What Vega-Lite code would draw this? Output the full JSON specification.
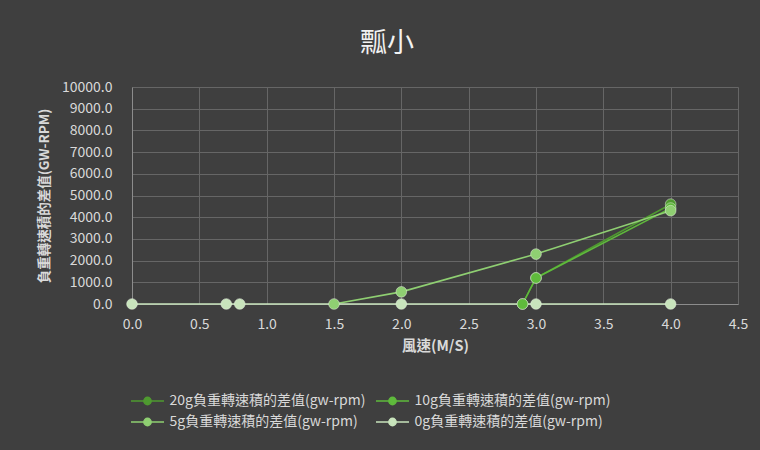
{
  "$schema": "https://vega.github.io/schema/vega-lite/v6.json",
  "width": 606,
  "height": 217,
  "autosize": {"type": "none"},
  "padding": {"left": 132, "top": 87, "right": 22, "bottom": 146},
  "background": "#3f3f3f",
  "title": {
    "text": "瓢小",
    "font": "Noto Sans CJK TC",
    "fontSize": 27,
    "fontWeight": "normal",
    "color": "#f2f2f2",
    "anchor": "middle",
    "dx": -48,
    "offset": 22
  },
  "data": {
    "values": [
      {"series": "20g負重轉速積的差值(gw-rpm)", "speed": 2.9, "diff": 0},
      {"series": "20g負重轉速積的差值(gw-rpm)", "speed": 3.0, "diff": 1200},
      {"series": "20g負重轉速積的差值(gw-rpm)", "speed": 4.0, "diff": 4600},
      {"series": "10g負重轉速積的差值(gw-rpm)", "speed": 2.9, "diff": 0},
      {"series": "10g負重轉速積的差值(gw-rpm)", "speed": 3.0, "diff": 1200},
      {"series": "10g負重轉速積的差值(gw-rpm)", "speed": 4.0, "diff": 4420},
      {"series": "5g負重轉速積的差值(gw-rpm)", "speed": 1.5, "diff": 0},
      {"series": "5g負重轉速積的差值(gw-rpm)", "speed": 2.0, "diff": 560},
      {"series": "5g負重轉速積的差值(gw-rpm)", "speed": 3.0, "diff": 2300},
      {"series": "5g負重轉速積的差值(gw-rpm)", "speed": 4.0, "diff": 4300},
      {"series": "0g負重轉速積的差值(gw-rpm)", "speed": 0.0, "diff": 0},
      {"series": "0g負重轉速積的差值(gw-rpm)", "speed": 0.7, "diff": 0},
      {"series": "0g負重轉速積的差值(gw-rpm)", "speed": 0.8, "diff": 0},
      {"series": "0g負重轉速積的差值(gw-rpm)", "speed": 2.0, "diff": 0},
      {"series": "0g負重轉速積的差值(gw-rpm)", "speed": 3.0, "diff": 0},
      {"series": "0g負重轉速積的差值(gw-rpm)", "speed": 4.0, "diff": 0}
    ]
  },
  "encoding": {
    "x": {
      "field": "speed",
      "type": "quantitative",
      "scale": {"domain": [0, 4.5], "nice": false, "zero": false},
      "axis": {
        "title": "風速(M/S)",
        "values": [0, 0.5, 1, 1.5, 2, 2.5, 3, 3.5, 4, 4.5],
        "format": ".1f",
        "labelFlush": false,
        "labelPadding": 13,
        "titlePadding": 8,
        "titleFontSize": 14.5
      }
    },
    "y": {
      "field": "diff",
      "type": "quantitative",
      "scale": {"domain": [0, 10000], "nice": false},
      "axis": {
        "title": "負重轉速積的差值(GW-RPM)",
        "values": [0, 1000, 2000, 3000, 4000, 5000, 6000, 7000, 8000, 9000, 10000],
        "format": ".1f",
        "labelPadding": 20,
        "titlePadding": 10,
        "titleFontSize": 13.5
      }
    },
    "color": {
      "field": "series",
      "type": "nominal",
      "sort": null,
      "scale": {
        "domain": [
          "20g負重轉速積的差值(gw-rpm)",
          "10g負重轉速積的差值(gw-rpm)",
          "5g負重轉速積的差值(gw-rpm)",
          "0g負重轉速積的差值(gw-rpm)"
        ],
        "range": ["#4f9a30", "#5fba3c", "#8fcf72", "#c8e4bc"]
      },
      "legend": {
        "title": null,
        "orient": "none",
        "legendX": 3.5,
        "legendY": 302,
        "columns": 2,
        "direction": "horizontal",
        "columnPadding": 7,
        "rowPadding": 2,
        "symbolType": "M-1.5,0H1.5M-0.33,0A0.33,0.33 0 1,0 0.33,0A0.33,0.33 0 1,0 -0.33,0",
        "symbolSize": 484,
        "symbolStrokeWidth": 1.5,
        "labelFont": "Noto Sans CJK TC",
        "labelFontSize": 14,
        "labelColor": "#d9d9d9",
        "labelLimit": 300,
        "labelOffset": 10
      }
    }
  },
  "layer": [
    {
      "mark": {"type": "line", "strokeWidth": 1.6}
    },
    {
      "mark": {"type": "point", "filled": true, "size": 30, "opacity": 0.9, "color": "#000000", "yOffset": 2},
      "encoding": {"color": {"value": "#1a1a1a"}}
    },
    {
      "mark": {"type": "point", "filled": true, "size": 115, "opacity": 1, "stroke": "#e8f3e2", "strokeWidth": 0.5}
    }
  ],
  "config": {
    "font": "Noto Sans CJK TC",
    "view": {"stroke": null},
    "axis": {
      "labelFont": "Noto Sans CJK TC",
      "labelFontSize": 14,
      "labelColor": "#d9d9d9",
      "titleFont": "Noto Sans CJK TC",
      "titleFontWeight": "bold",
      "titleColor": "#d9d9d9",
      "gridColor": "#666666",
      "gridWidth": 1,
      "domainColor": "#8c8c8c",
      "ticks": false
    }
  }
}
